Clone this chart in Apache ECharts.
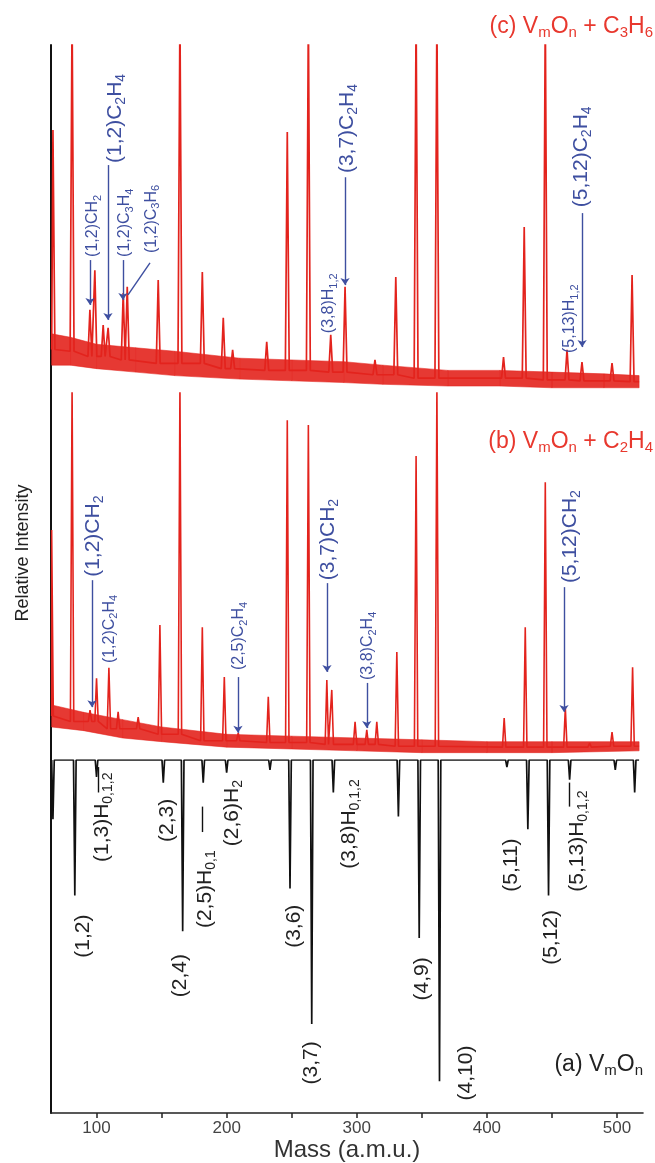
<!DOCTYPE html>
<html><head><meta charset="utf-8">
<script src="https://cdn.jsdelivr.net/npm/echarts@6/dist/echarts.min.js"></script>
<style>html,body{margin:0;padding:0;background:#fff}#c{width:655px;height:1163px}</style>
</head><body><div id="c"></div>
<script>
// ---------- axis ticks ----------
const massTicks = [100,150,200,250,300,350,400,450,500];
const massLabels = [100,200,300,400,500];

// ---------- (c) VmOn + C3H6 : [mass, relative intensity] ----------
const peaksC = [[66.5,75.6],[81.2,110],[94.9,23.9],[98.7,35.3],[105.1,19.5],[108.9,18.7],[120.5,28.7],[123.6,30.5],
  [147.4,32.5],[164.1,110],[181.3,34.8],[197.4,21.6],[204.6,12.4],[230.8,14.7],[246.6,75],[262.8,110],[280,16.7],
  [291,30.5],[314,9.5],[330,33.3],[345.6,110],[361.6,110],[412.8,10.3],[428.7,47.7],[444.9,110],[461.6,12.4],
  [473.1,8.9],[496.2,8.6],[511.6,33.9]];
// noise band [mass, low, high]
const noiseC = [[65.5,8,17],[80,8,16],[100,7,14],[130,6,13],[160,5,12],[210,4,10],[250,3.5,9.5],[290,3,9],
  [320,2.5,8],[370,2,6.5],[410,2,6.5],[450,1.5,6],[490,1.5,5.5],[517,1.5,5]];

// ---------- (b) VmOn + C2H4 ----------
const peaksB = [[65.5,62.7],[81.2,102],[95,13.6],[100,22.3],[109.5,25.1],[116.6,13.1],[132,11.7],[148.7,36.8],
  [164.1,102],[181.3,36.2],[198.2,22.6],[208.9,7.4],[232,17.2],[246.6,92.6],[262.8,91.3],[277,21.8],[280.8,19.1],
  [298.7,10.4],[307.7,8.2],[315.4,10.4],[330.8,29.4],[345.6,82.8],[361.6,102],[413.3,11.4],[429.5,36.2],
  [444.9,75.7],[460.3,14.2],[479,4.6],[496.2,7.6],[512,25.3]];
const noiseB = [[65.5,9,15],[90,8,13],[120,6,11],[150,5,9],[200,3.5,7],[250,3,6.5],[300,2.5,6],[350,2,5.5],
  [400,2,5],[450,2,5],[517,2.5,5]];

// ---------- (a) VmOn (plotted downward) ----------
const peaksA = [[66.5,16.8],[83.3,38.4],[100,4.8],[151.3,6.4],[166.2,48.5],[182,6.4],[200,3.6],[233.3,2.8],
  [248.7,36.4],[265.4,74.8],[282,9.2],[332,16],[348,50.4],[363.6,91],[415.4,2],[431.5,19.6],[447.4,38.4],
  [463.6,5.6],[498.7,2.8],[513.6,9.2]];

// ---------- annotations: [mass, value at text start, text, size] ----------
const notesC = [[97.3,39.1,'(1,2)CH{s|2}','s'],[114.2,66.1,'(1,2)C{b|2}H{b|4}','b'],[121.9,39.1,'(1,2)C{s|3}H{s|4}','s'],
  [142.6,40.2,'(1,2)C{s|3}H{s|6}','s'],[278.7,17.2,'(3,8)H{s|1,2}','s'],[292.5,63.2,'(3,7)C{b|2}H{b|4}','b'],
  [472.4,53.4,'(5,12)C{b|2}H{b|4}','b'],[463.9,11.5,'(5,13)H{s|1,2}','s']];
const leadersC = [[[95,38.2],[95,25.3],1],[[108.8,65.5],[108.8,21],1],[[120.3,38.2],[120.3,26.7],1],
  [[141.1,37.4],[124.2,28.2],0],[[291,62],[291,31],1],[[473.2,51.7],[473.2,13.2],1]];
const notesB = [[97.7,49.9,'(1,2)CH{b|2}','b'],[110.3,26.4,'(1,2)C{s|2}H{s|4}','s'],[209.5,24.5,'(2,5)C{s|2}H{s|4}','s'],
  [277.9,49,'(3,7)CH{b|2}','b'],[308.7,21.8,'(3,8)C{s|2}H{s|4}','s'],[463.9,48.2,'(5,12)CH{b|2}','b']];
const leadersB = [[[96.5,49],[96.5,14.4],1],[[208.7,22.6],[208.7,7.4],1],[[277.1,48.2],[277.1,24],1],
  [[307.7,21],[307.7,8.7],1],[[459.3,47.1],[459.3,13.1],1]];
const notesA = [[89.6,56,'(1,2)','b'],[104.2,28.9,'(1,3)H{b|0,1,2}','b'],[154.2,23.2,'(2,3)','b'],[164.2,67.2,'(2,4)','b'],
  [183.4,47.6,'(2,5)H{b|0,1}','b'],[204.1,24.4,'(2,6)H{b|2}','b'],[251.8,53.2,'(3,6)','b'],[264.9,91.9,'(3,7)','b'],
  [294,30.8,'(3,8)H{b|0,1,2}','b'],[350.2,68.1,'(4,9)','b'],[384,96.4,'(4,10)','b'],[418.6,37.3,'(5,11)','b'],
  [449.4,58,'(5,12)','b'],[469.3,37.3,'(5,13)H{b|0,1,2}','b']];
const leadersA = [[[101.1,9.2],[101.1,2],0],[[181.1,20.4],[181.1,13.2],0],[[463.6,13.2],[463.6,6.4],0]];

// ---------- styling ----------
const RED = '#e3231d', BLUE = '#3e4fa0', BLACK = '#111';
const FONT = '"Liberation Sans", Arial, sans-serif';
const GRID_L = 51, GRID_R = 12;

function nearestMid(noise, m) {
  let best = noise[0];
  for (const n of noise) if (Math.abs(n[0] - m) < Math.abs(best[0] - m)) best = n;
  return (best[1] + best[2]) / 2;
}
function stickLine(peaks, noise, hw, start, end) {
  const foot = m => noise ? nearestMid(noise, m) : 0;
  const pts = [[start, foot(start)]];
  peaks.slice().sort((a, b) => a[0] - b[0]).forEach(p => {
    const f = foot(p[0]);
    pts.push([p[0] - hw, f], [p[0], p[1]], [p[0] + hw, f]);
  });
  pts.push([end, foot(end)]);
  return pts;
}
// noise band drawn as polygons between consecutive samples
function bandSeries(noise, g) {
  const segs = [];
  for (let i = 0; i < noise.length - 1; i++) {
    segs.push([noise[i][0], noise[i][1], noise[i][2], noise[i + 1][0], noise[i + 1][1], noise[i + 1][2]]);
  }
  return {
    type: 'custom', xAxisIndex: g, yAxisIndex: g, silent: true, data: segs,
    encode: { x: [0, 3], y: [1, 2, 4, 5] },
    renderItem: (params, api) => {
      const a = api.coord([api.value(0), api.value(2)]);
      const b = api.coord([api.value(3), api.value(5)]);
      const c = api.coord([api.value(3), api.value(4)]);
      const d = api.coord([api.value(0), api.value(1)]);
      return { type: 'polygon', shape: { points: [a, b, c, d] },
        style: { fill: RED, stroke: RED, lineWidth: 0.6, opacity: 0.9 } };
    }
  };
}
function leaderMark(leaders, color) {
  return {
    silent: true, animation: false, symbolSize: 7,
    lineStyle: { color: color, width: 1.4, type: 'solid' },
    label: { show: false },
    data: leaders.map(l => [{ coord: l[0], symbol: 'none' }, { coord: l[1], symbol: l[2] ? 'arrow' : 'none' }])
  };
}

const grids = [
  { left: GRID_L, right: GRID_R, top: 45, height: 348 },
  { left: GRID_L, right: GRID_R, top: 393, height: 367 },
  { left: GRID_L, right: GRID_R, top: 760, height: 357 }
];
const xAxes = [0, 1, 2].map(g => ({
  type: 'value', gridIndex: g, min: 65, max: 520, show: g === 2,
  splitLine: { show: false },
  axisLine: { onZero: false, lineStyle: { color: '#222', width: 1.6 } },
  axisTick: { show: true, length: 5, customValues: massTicks, lineStyle: { color: '#222', width: 1.5 } },
  axisLabel: { customValues: massLabels, fontSize: 17, color: '#444', margin: 7, fontFamily: FONT },
  name: g === 2 ? 'Mass (a.m.u.)' : '', nameLocation: 'middle', nameGap: 18,
  nameTextStyle: { fontSize: 24, color: '#333', fontFamily: FONT }
}));
const yAxes = [0, 1, 2].map(g => ({
  type: 'value', gridIndex: g, min: 0, max: 100, inverse: g === 2,
  axisLine: { show: true, onZero: false, lineStyle: { color: '#111', width: 2 } },
  axisTick: { show: false }, axisLabel: { show: false }, splitLine: { show: false }
}));

const chart = echarts.init(document.getElementById('c'), null, { renderer: 'canvas' });
chart.setOption({
  animation: false,
  backgroundColor: '#fff',
  grid: grids, xAxis: xAxes, yAxis: yAxes,
  series: [
    bandSeries(noiseC, 0),
    { type: 'line', xAxisIndex: 0, yAxisIndex: 0, symbol: 'none', clip: true,
      lineStyle: { color: RED, width: 1.7 }, data: stickLine(peaksC, noiseC, 1.5, 65.5, 517),
      markLine: leaderMark(leadersC, BLUE) },
    bandSeries(noiseB, 1),
    { type: 'line', xAxisIndex: 1, yAxisIndex: 1, symbol: 'none', clip: true,
      lineStyle: { color: RED, width: 1.6 }, data: stickLine(peaksB, noiseB, 1.3, 65.5, 517),
      markLine: leaderMark(leadersB, BLUE) },
    { type: 'line', xAxisIndex: 2, yAxisIndex: 2, symbol: 'none', clip: true,
      lineStyle: { color: BLACK, width: 1.7 }, data: stickLine(peaksA, null, 1.0, 65.5, 517),
      markLine: leaderMark(leadersA, BLACK) }
  ]
});

// ---------- text annotations placed through the chart's own scales ----------
const richSmall = { s: { fontSize: 11, padding: [9, 0, 0, 0], fontFamily: FONT } };
const richBig = { b: { fontSize: 14, padding: [12, 0, 0, 0], fontFamily: FONT }, s: { fontSize: 11, padding: [9, 0, 0, 0] } };
function noteElems(notes, g, color) {
  return notes.map(n => {
    const p = chart.convertToPixel({ gridIndex: g }, [n[0], n[1]]);
    const big = n[3] === 'b';
    return {
      type: 'text', x: p[0], y: p[1], rotation: Math.PI / 2, silent: true, z: 100,
      style: { text: n[2], fill: color, fontSize: big ? 21 : 16, fontFamily: FONT,
        align: 'left', verticalAlign: 'middle', textAlign: 'left', textVerticalAlign: 'middle',
        rich: big ? richBig : richSmall }
    };
  });
}
const titleRich = { r: { fontSize: 15, padding: [12, 0, 0, 0], fontFamily: FONT } };
function title(text, x, y, color) {
  return { type: 'text', x: x, y: y, silent: true, z: 100,
    style: { text: text, fill: color, fontSize: 23, fontFamily: FONT, align: 'right', verticalAlign: 'middle',
      textAlign: 'right', textVerticalAlign: 'middle', rich: titleRich } };
}
chart.setOption({
  graphic: [
    ...noteElems(notesC, 0, BLUE),
    ...noteElems(notesB, 1, BLUE),
    ...noteElems(notesA, 2, '#222'),
    title('(c) V{r|m}O{r|n} + C{r|3}H{r|6}', 653, 27, '#e8382e'),
    title('(b) V{r|m}O{r|n} + C{r|2}H{r|4}', 653, 442, '#e8382e'),
    title('(a) V{r|m}O{r|n}', 643, 1065, '#222'),
    { type: 'text', x: 23, y: 553, rotation: Math.PI / 2, silent: true,
      style: { text: 'Relative Intensity', fill: '#222', fontSize: 18, fontFamily: FONT,
        align: 'center', verticalAlign: 'middle', textAlign: 'center', textVerticalAlign: 'middle' } }
  ]
});
</script>
</body></html>
